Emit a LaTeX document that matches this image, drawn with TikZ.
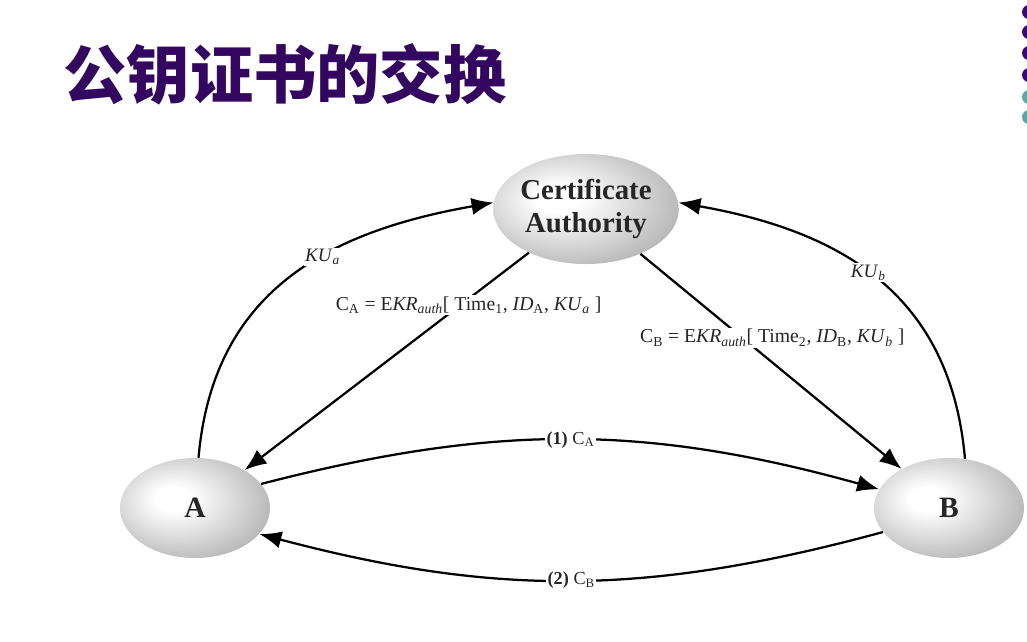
\documentclass[tikz,border=0pt]{standalone}
\usepackage{fontspec}
\setmainfont{Liberation Serif}
\newfontfamily\cjk{Noto Sans CJK SC}
\usetikzlibrary{shapes.geometric,arrows.meta}
\definecolor{titlepurple}{HTML}{33065F}
\definecolor{dotpurple}{HTML}{3B0A6E}
\definecolor{dotteal}{HTML}{66A3A3}
\pgfdeclareradialshading{egg}{\pgfpoint{-8bp}{5bp}}{color(0bp)=(white); color(6bp)=(white);
  color(30bp)=(gray!55); color(50bp)=(gray!85); color(70bp)=(gray!90)}
\begin{document}
\begin{tikzpicture}[x=0.025cm, y=-0.025cm,
  peer/.style={ellipse, minimum width=3.75cm, minimum height=2.5cm, inner sep=0pt,
    shading=egg, text=black!85,
    font=\bfseries\fontsize{21}{24}\selectfont},
  authority/.style={peer, minimum width=4.4cm, minimum height=2.75cm, align=center,
    font=\bfseries\fontsize{20.5}{24}\selectfont},
  arr/.style={line width=1.6pt, -{Latex[length=5.5mm,width=4.3mm]}},
  lbl/.style={fill=white, inner sep=1pt, text=black!85, font=\fontsize{14}{16}\selectfont}]
  \useasboundingbox (0,0) rectangle (1027,641);
  % title and the dots at the right edge
  \node[text=titlepurple, font=\cjk\bfseries\fontsize{45}{50}\selectfont] (title) at (285,74) {公钥证书的交换};
  \fill[dotpurple] (1029,12) circle(7);
  \fill[dotpurple] (1029,32) circle(7);
  \fill[dotpurple] (1029,53) circle(7);
  \fill[dotpurple] (1029,75) circle(7);
  \fill[dotteal] (1029,97) circle(7);
  \fill[dotteal] (1029,117) circle(7);
  % the three parties
  \node[authority] (ca) at (586,209) {Certificate\\Authority};
  \node[peer] (a) at (195,508) {A};
  \node[peer] (b) at (949,508) {B};
  % keys sent to the authority
  \draw[arr] (a.86) to[out=85, in=190, looseness=1.1]
    node[lbl, pos=0.6, font=\fontsize{13.5}{16}\selectfont] (kua) {\textit{KU}\textsubscript{\textit{a}}} (ca.176);
  \draw[arr] (b.72) to[out=95, in=-10, looseness=1.1]
    node[lbl, pos=0.53, font=\fontsize{13.5}{16}\selectfont] (kub) {\textit{KU}\textsubscript{\textit{b}}} (ca.4);
  % certificates handed out
  \draw[arr] (ca) -- node[lbl, pos=0.24, xshift=0.2cm] (certa)
    {C\textsubscript{A} = E\textit{KR}\textsubscript{\textit{auth}}[ Time\textsubscript{1}, \textit{ID}\textsubscript{A}, \textit{KU}\textsubscript{\textit{a}} ]} (a);
  \draw[arr] (ca) -- node[lbl, pos=0.39, xshift=0.75cm] (certb)
    {C\textsubscript{B} = E\textit{KR}\textsubscript{\textit{auth}}[ Time\textsubscript{2}, \textit{ID}\textsubscript{B}, \textit{KU}\textsubscript{\textit{b}} ]} (b);
  % exchange between A and B
  \draw[arr] (a.20) to[bend left=15]
    node[lbl, font=\fontsize{13}{15}\selectfont] (step1) {\textbf{(1)} C\textsubscript{A}} (b.165);
  \draw[arr] (b.200) to[bend left=15]
    node[lbl, font=\fontsize{13}{15}\selectfont] (step2) {\textbf{(2)} C\textsubscript{B}} (a.-22);
\end{tikzpicture}
\end{document}
